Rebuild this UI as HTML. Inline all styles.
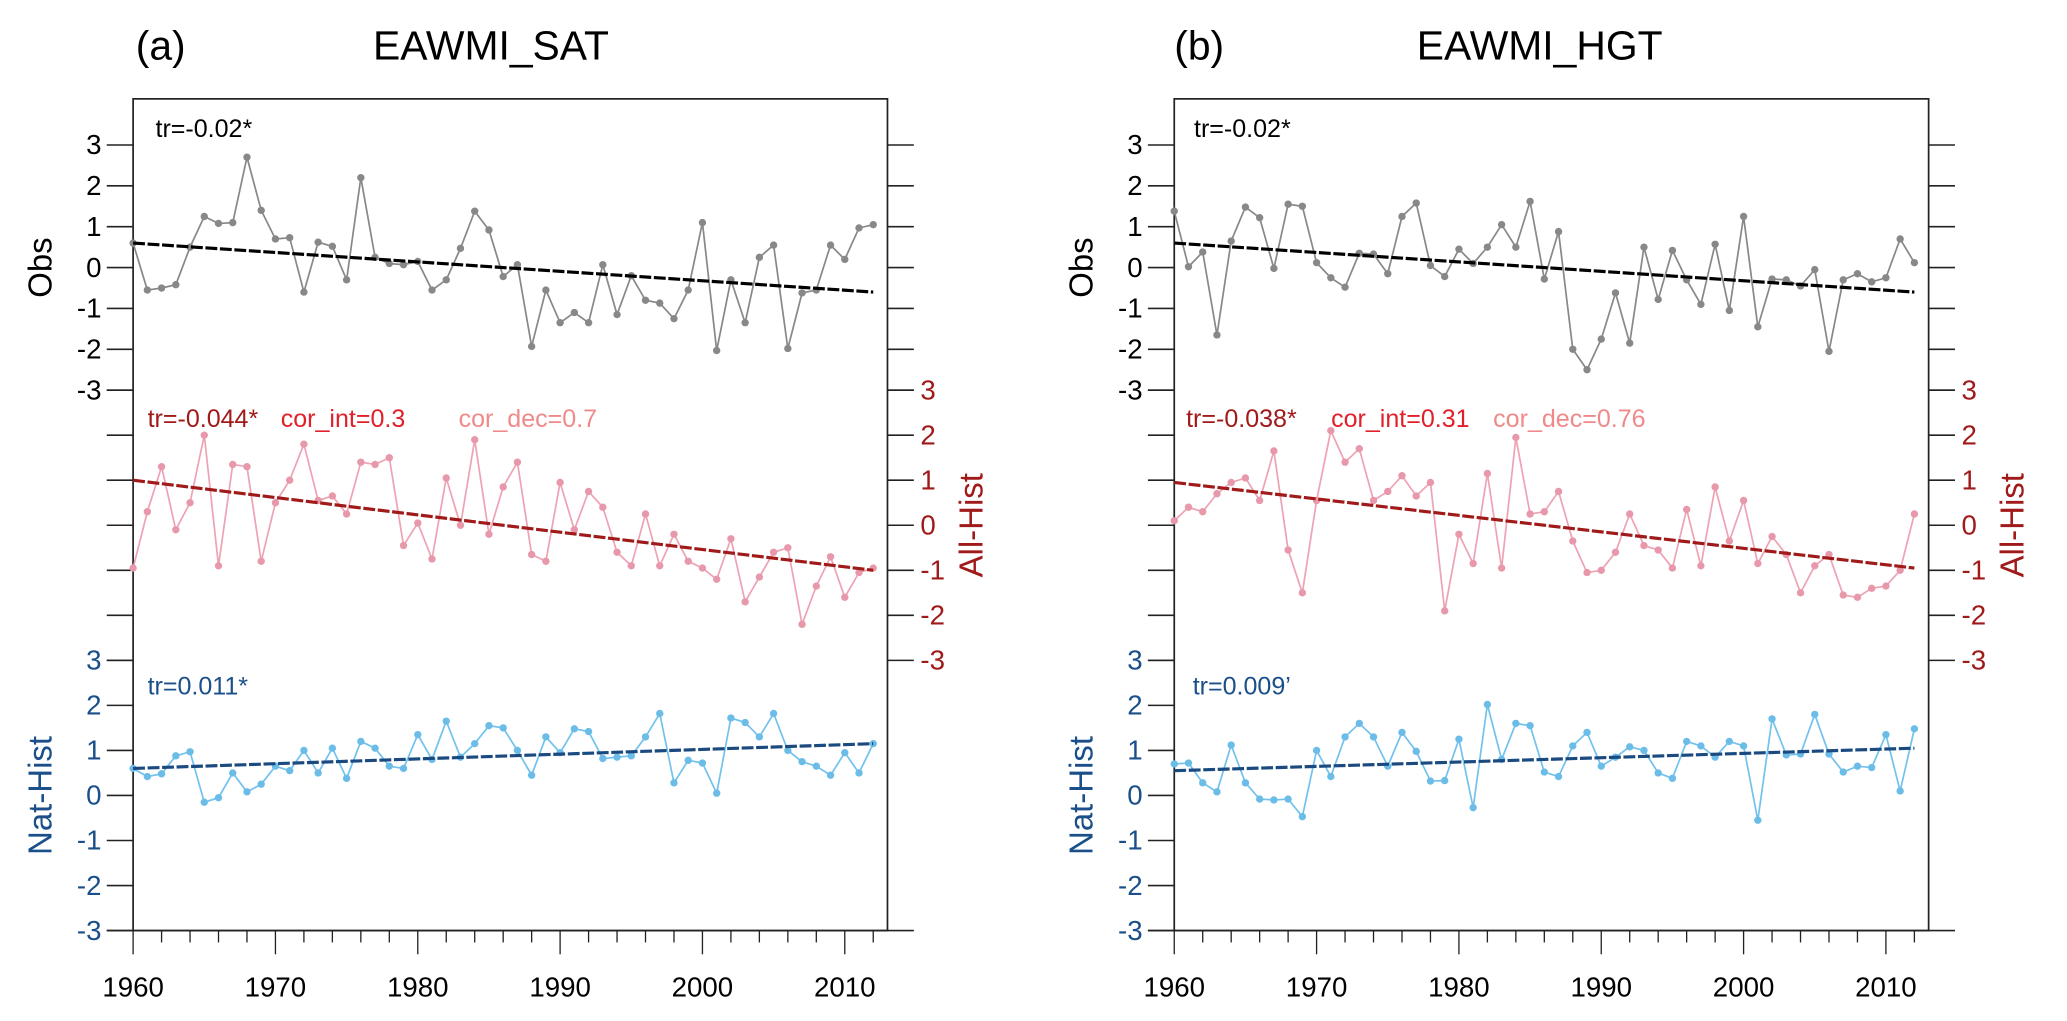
<!DOCTYPE html>
<html><head><meta charset="utf-8"><style>
html,body{margin:0;padding:0;background:#fff;}
svg{display:block;font-family:"Liberation Sans",Arial,sans-serif;}
</style></head><body>
<svg id="chart" width="2067" height="1021" viewBox="0 0 1568.4 774.6" preserveAspectRatio="none" xmlns="http://www.w3.org/2000/svg">
<text x="103" y="45" font-size="31">(a)</text>
<text x="283" y="45" font-size="31">EAWMI_SAT</text>
<text x="891" y="45" font-size="31">(b)</text>
<text x="1075" y="45" font-size="31">EAWMI_HGT</text>
</svg>
<script>
const years = [];
for (let y = 1960; y <= 2012; y++) years.push(y);
const xTickLabels = [1960, 1970, 1980, 1990, 2000, 2010];
const yTickLabels = [3, 2, 1, 0, -1, -2, -3];

const obsSAT = [0.6,-0.55,-0.5,-0.42,0.5,1.25,1.08,1.1,2.7,1.4,0.7,0.73,-0.6,0.62,0.52,-0.3,2.2,0.25,0.1,0.07,0.15,-0.55,-0.3,0.47,1.38,0.92,-0.22,0.07,-1.93,-0.55,-1.35,-1.1,-1.35,0.07,-1.15,-0.2,-0.8,-0.87,-1.25,-0.55,1.1,-2.03,-0.3,-1.35,0.25,0.55,-1.98,-0.62,-0.55,0.55,0.2,0.97,1.05];
const allSAT = [-0.95,0.3,1.3,-0.1,0.5,2.0,-0.9,1.35,1.3,-0.8,0.5,1.0,1.8,0.55,0.65,0.25,1.4,1.35,1.5,-0.45,0.05,-0.75,1.05,0.0,1.9,-0.2,0.85,1.4,-0.65,-0.8,0.95,-0.1,0.75,0.4,-0.6,-0.9,0.25,-0.9,-0.2,-0.8,-0.95,-1.2,-0.3,-1.7,-1.15,-0.6,-0.5,-2.2,-1.35,-0.7,-1.6,-1.05,-0.95];
const natSAT = [0.6,0.42,0.48,0.88,0.97,-0.15,-0.05,0.5,0.08,0.25,0.65,0.55,1.0,0.5,1.05,0.38,1.2,1.05,0.65,0.6,1.35,0.8,1.65,0.85,1.15,1.55,1.5,1.0,0.45,1.3,0.95,1.48,1.42,0.82,0.85,0.88,1.3,1.82,0.28,0.78,0.72,0.05,1.72,1.62,1.3,1.82,1.0,0.75,0.65,0.45,0.95,0.5,1.15];
const obsHGT = [1.38,0.02,0.38,-1.65,0.65,1.48,1.22,-0.02,1.55,1.5,0.12,-0.25,-0.48,0.35,0.33,-0.15,1.25,1.58,0.05,-0.22,0.45,0.1,0.5,1.05,0.5,1.62,-0.28,0.88,-2.0,-2.5,-1.75,-0.62,-1.85,0.5,-0.78,0.42,-0.3,-0.9,0.57,-1.05,1.25,-1.45,-0.28,-0.3,-0.45,-0.05,-2.05,-0.3,-0.15,-0.35,-0.25,0.7,0.12];
const allHGT = [0.1,0.4,0.3,0.7,0.95,1.05,0.55,1.65,-0.55,-1.5,0.55,2.1,1.4,1.7,0.55,0.75,1.1,0.65,0.95,-1.9,-0.2,-0.85,1.15,-0.95,1.95,0.25,0.3,0.75,-0.35,-1.05,-1.0,-0.6,0.25,-0.45,-0.55,-0.95,0.35,-0.9,0.85,-0.35,0.55,-0.85,-0.25,-0.65,-1.5,-0.9,-0.65,-1.55,-1.6,-1.4,-1.35,-1.0,0.25];
const natHGT = [0.7,0.72,0.28,0.08,1.12,0.28,-0.08,-0.1,-0.08,-0.47,1.0,0.42,1.3,1.6,1.3,0.65,1.4,0.98,0.32,0.33,1.25,-0.27,2.02,0.8,1.6,1.55,0.52,0.42,1.1,1.4,0.65,0.85,1.08,1.0,0.5,0.38,1.2,1.1,0.85,1.2,1.1,-0.55,1.7,0.9,0.92,1.8,0.92,0.52,0.65,0.62,1.35,0.1,1.48];
const trendSAT = { obs: [0.6, -0.6], all: [1.0, -1.0], nat: [0.6, 1.15] };
const trendHGT = { obs: [0.6, -0.6], all: [0.95, -0.95], nat: [0.55, 1.05] };

const NS = "http://www.w3.org/2000/svg";
const svg = document.getElementById('chart');
function mk(tag, attrs, parent) {
  const e = document.createElementNS(NS, tag);
  for (const k in attrs) e.setAttribute(k, attrs[k]);
  (parent || svg).appendChild(e);
  return e;
}
const TOP = 75, BOT = 706, PX = 10.8;
const yObs = v => 203 - 31 * v;
const yAll = v => 398.5 - 34.17 * v;
const yNat = v => 603.5 - 34.17 * v;
const BLACK = '#000', RED = '#a01a1a', BLUE = '#1a4f8a';

function panel(id, x0, obs, all, nat, tr, notes) {
  const xs = yr => x0 + (yr - 1960) * PX;
  const xR = xs(2013);
  const g = mk('g', {});
  
  
  const box = mk('rect', {x: x0, y: TOP, width: xR - x0, height: BOT - TOP, fill: 'none', stroke: '#222', 'stroke-width': 1.3}, g);
  
  
  for (let yr = 1960; yr <= 2012; yr += 2) {
    const major = yr % 10 === 0;
    const t = mk('line', {x1: xs(yr), x2: xs(yr), y1: BOT, y2: BOT + (major ? 18 : 9), stroke: '#222', 'stroke-width': 1}, g);
    
    
  }
  mk('line', {x1: x0 - 20, x2: xR + 20, y1: BOT, y2: BOT, stroke: '#222', 'stroke-width': 1.3}, g);
  xTickLabels.forEach(yr => {
    const t = mk('text', {x: xs(yr), y: 756, 'font-size': 21, 'text-anchor': 'middle'}, g);
    
    
    t.textContent = yr;
  });
  const tickDefs = [[yObs, BLACK, 'left'], [yAll, RED, 'right'], [yNat, BLUE, 'left']];
  tickDefs.forEach(([f, col, side], si) => {
    yTickLabels.forEach(v => {
      const y = f(v);
      mk('line', {x1: x0 - 20, x2: x0, y1: y, y2: y, stroke: '#222', 'stroke-width': 1.2}, g);
      if (si < 2) mk('line', {x1: xR, x2: xR + 20, y1: y, y2: y, stroke: '#222', 'stroke-width': 1.2}, g);
      if (side === 'left') {
        const t = mk('text', {x: x0 - 24, y: y + 7, 'font-size': 21, 'text-anchor': 'end', fill: col}, g);
        
        
        t.textContent = v;
      } else {
        const t = mk('text', {x: xR + 25, y: y + 7, 'font-size': 21, 'text-anchor': 'start', fill: col}, g);
        
        
        t.textContent = v;
      }
    });
  });
  const axT = (txt, x, y, col, nm) => {
    const t = mk('text', {x: x, y: y, 'font-size': 25, 'text-anchor': 'middle', fill: col, transform: `rotate(-90 ${x} ${y})`}, g);
    
    
    t.textContent = txt;
  };
  axT('Obs', x0 - 62, 203, BLACK, 'obs-axis-title');
  axT('Nat-Hist', x0 - 62, 603.5, BLUE, 'nat-hist-axis-title');
  axT('All-Hist', xR + 72, 398.5, RED, 'all-hist-axis-title');
  const series = [[obs, yObs, '#888888', '#888888', tr.obs, '#000', 'obs'],
                  [all, yAll, '#eea3b5', '#e898ab', tr.all, '#a01a1a', 'all-hist'],
                  [nat, yNat, '#72c2ee', '#6bbde8', tr.nat, '#1a4a80', 'nat-hist']];
  series.forEach(([vals, f, lc, pc, trd, tc, nm]) => {
    const pts = vals.map((v, i) => xs(years[i]) + ',' + f(v)).join(' ');
    const pl = mk('polyline', {points: pts, fill: 'none', stroke: lc, 'stroke-width': 1.3}, g);
    
    
    vals.forEach((v, i) => {
      const c = mk('circle', {cx: xs(years[i]), cy: f(v), r: 2.8, fill: pc}, g);
      
      
    });
    const tl = mk('line', {x1: xs(1960), y1: f(trd[0]), x2: xs(2012), y2: f(trd[1]), stroke: tc, 'stroke-width': 2.4, 'stroke-dasharray': '9 2'}, g);
    
    
  });
  notes.forEach(([txt, x, y, col, nm]) => {
    const t = mk('text', {x: x, y: y, 'font-size': 19, fill: col}, g);
    
    
    t.textContent = txt;
  });
}
panel('panel-a', 101, obsSAT, allSAT, natSAT, trendSAT, [
  ['tr=-0.02*', 118, 104, '#000', 'obs-trend-annotation'],
  ['tr=-0.044*', 112, 324, '#a01a1a', 'all-hist-trend-annotation'],
  ['cor_int=0.3', 213, 324, '#e0202a', 'cor-int-annotation'],
  ['cor_dec=0.7', 348, 324, '#f08a8a', 'cor-dec-annotation'],
  ['tr=0.011*', 112, 527, '#1a4f8a', 'nat-hist-trend-annotation']]);
panel('panel-b', 891, obsHGT, allHGT, natHGT, trendHGT, [
  ['tr=-0.02*', 906, 104, '#000', 'obs-trend-annotation'],
  ['tr=-0.038*', 900, 324, '#a01a1a', 'all-hist-trend-annotation'],
  ['cor_int=0.31', 1010, 324, '#e0202a', 'cor-int-annotation'],
  ['cor_dec=0.76', 1133, 324, '#f08a8a', 'cor-dec-annotation'],
  ['tr=0.009\u2019', 905, 527, '#1a4f8a', 'nat-hist-trend-annotation']]);
</script>
</body></html>
